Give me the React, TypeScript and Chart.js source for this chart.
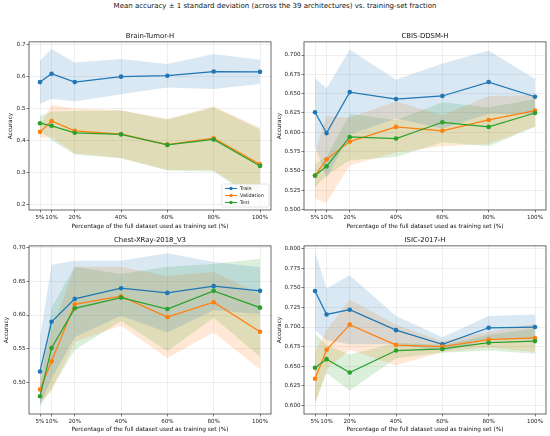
import React, { useEffect, useRef } from "react";
import Chart from "chart.js/auto";

const FONT = "DejaVu Sans";

// training-set fraction (%)
const fractions = [5, 10, 20, 40, 60, 80, 100];

// Brain-Tumor-H
const brainTrain = [0.583, 0.609, 0.583, 0.6, 0.603, 0.616, 0.615];
const brainTrainStd = [0.068, 0.078, 0.061, 0.055, 0.037, 0.055, 0.038];
const brainVal = [0.427, 0.461, 0.43, 0.42, 0.387, 0.407, 0.325];
const brainValStd = [0.018, 0.05, 0.07, 0.075, 0.08, 0.1, 0.115];
const brainTest = [0.454, 0.446, 0.424, 0.419, 0.386, 0.403, 0.32];
const brainTestStd = [0.022, 0.045, 0.068, 0.075, 0.08, 0.1, 0.115];
const brainTicks = [0.2, 0.3, 0.4, 0.5, 0.6, 0.7];

// CBIS-DDSM-H
const cbisTrain = [0.626, 0.599, 0.652, 0.643, 0.647, 0.665, 0.646];
const cbisTrainStd = [0.044, 0.058, 0.055, 0.025, 0.042, 0.041, 0.023];
const cbisVal = [0.544, 0.565, 0.588, 0.607, 0.602, 0.616, 0.628];
const cbisValStd = [0.03, 0.056, 0.031, 0.033, 0.02, 0.031, 0.02];
const cbisTest = [0.544, 0.556, 0.594, 0.592, 0.613, 0.607, 0.625];
const cbisTestStd = [0.015, 0.012, 0.03, 0.024, 0.026, 0.025, 0.018];
const cbisTicks = [0.5, 0.525, 0.55, 0.575, 0.6, 0.625, 0.65, 0.675, 0.7];

// Chest-XRay-2018_V3
const chestTrain = [0.516, 0.59, 0.624, 0.64, 0.633, 0.643, 0.636];
const chestTrainStd = [0.05, 0.085, 0.057, 0.041, 0.059, 0.036, 0.035];
const chestVal = [0.489, 0.531, 0.616, 0.628, 0.597, 0.619, 0.575];
const chestValStd = [0.02, 0.045, 0.056, 0.044, 0.061, 0.045, 0.056];
const chestTest = [0.479, 0.551, 0.61, 0.626, 0.609, 0.636, 0.611];
const chestTestStd = [0.015, 0.06, 0.062, 0.035, 0.063, 0.04, 0.073];
const chestTicks = [0.5, 0.55, 0.6, 0.65, 0.7];

// ISIC-2017-H
const isicTrain = [0.746, 0.716, 0.722, 0.696, 0.678, 0.699, 0.7];
const isicTrainStd = [0.05, 0.033, 0.044, 0.018, 0.009, 0.015, 0.016];
const isicVal = [0.634, 0.671, 0.703, 0.677, 0.675, 0.684, 0.686];
const isicValStd = [0.034, 0.025, 0.032, 0.026, 0.007, 0.01, 0.018];
const isicTest = [0.648, 0.659, 0.642, 0.67, 0.672, 0.68, 0.682];
const isicTestStd = [0.044, 0.018, 0.023, 0.01, 0.005, 0.01, 0.016];
const isicTicks = [0.6, 0.625, 0.65, 0.675, 0.7, 0.725, 0.75, 0.775, 0.8];

const seriesNames = ["Train", "Validation", "Test"];
const lineColors = ["#1f77b4", "#ff7f0e", "#2ca02c"];
const bandColors = ["rgba(31,119,180,0.17)", "rgba(255,127,14,0.17)", "rgba(44,160,44,0.17)"];

type Panel = {
  title: string;
  means: number[][];
  stds: number[][];
  ticks: number[];
  decimals: number;
  yMin: number;
  yMax: number;
  left: number;
  top: number;
  height: number;
  xAxisH: number;
  xTitlePad: number;
  yTitleX: number;
  legend: boolean;
};

const panels: Panel[] = [
  {
    title: "Brain-Tumor-H",
    means: [brainTrain, brainVal, brainTest],
    stds: [brainTrainStd, brainValStd, brainTestStd],
    ticks: brainTicks, decimals: 1, yMin: 0.182, yMax: 0.709,
    left: 0, top: 24, height: 212, xAxisH: 26, xTitlePad: 6.5, yTitleX: 10, legend: true,
  },
  {
    title: "CBIS-DDSM-H",
    means: [cbisTrain, cbisVal, cbisTest],
    stds: [cbisTrainStd, cbisValStd, cbisTestStd],
    ticks: cbisTicks, decimals: 3, yMin: 0.4995, yMax: 0.717,
    left: 275, top: 24, height: 212, xAxisH: 26, xTitlePad: 6.5, yTitleX: 4, legend: false,
  },
  {
    title: "Chest-XRay-2018_V3",
    means: [chestTrain, chestVal, chestTest],
    stds: [chestTrainStd, chestValStd, chestTestStd],
    ticks: chestTicks, decimals: 2, yMin: 0.4526, yMax: 0.703,
    left: 0, top: 228, height: 208, xAxisH: 22, xTitlePad: 3.5, yTitleX: 6, legend: false,
  },
  {
    title: "ISIC-2017-H",
    means: [isicTrain, isicVal, isicTest],
    stds: [isicTrainStd, isicValStd, isicTestStd],
    ticks: isicTicks, decimals: 3, yMin: 0.589, yMax: 0.8035,
    left: 275, top: 228, height: 208, xAxisH: 22, xTitlePad: 3.5, yTitleX: 4, legend: false,
  },
];

const framePlugin = {
  id: "frame",
  afterDatasetsDraw(chart: any) {
    const { ctx, chartArea: a } = chart;
    ctx.save();
    ctx.strokeStyle = "#444";
    ctx.lineWidth = 0.8;
    ctx.strokeRect(a.left, a.top, a.right - a.left, a.bottom - a.top);
    ctx.restore();
  },
};

const legendPlugin = {
  id: "innerLegend",
  afterDraw(chart: any, _args: any, opts: any) {
    if (!opts.show) return;
    const { ctx, chartArea: a } = chart;
    const w = 47, h = 23;
    const x0 = a.right - 2 - w, y0 = a.bottom - 3 - h;
    ctx.save();
    ctx.fillStyle = "rgba(255,255,255,0.85)";
    ctx.strokeStyle = "#d0d0d0";
    ctx.lineWidth = 0.6;
    ctx.beginPath();
    ctx.roundRect(x0, y0, w, h, 1.5);
    ctx.fill();
    ctx.stroke();
    ctx.font = `4.8px "${FONT}"`;
    ctx.textBaseline = "middle";
    seriesNames.forEach((name, i) => {
      const y = y0 + 4.5 + i * 7;
      ctx.strokeStyle = lineColors[i];
      ctx.lineWidth = 1.1;
      ctx.beginPath();
      ctx.moveTo(x0 + 3, y);
      ctx.lineTo(x0 + 15, y);
      ctx.stroke();
      ctx.fillStyle = lineColors[i];
      ctx.beginPath();
      ctx.arc(x0 + 9, y, 1.7, 0, Math.PI * 2);
      ctx.fill();
      ctx.fillStyle = "#111";
      ctx.fillText(name, x0 + 18, y + 0.3);
    });
    ctx.restore();
  },
};

function PanelChart({ p }: { p: Panel }) {
  const ref = useRef<HTMLCanvasElement>(null);

  useEffect(() => {
    if (!ref.current) return;
    const datasets: any[] = [];
    p.means.forEach((mean, i) => {
      datasets.push({
        label: seriesNames[i] + " upper",
        data: fractions.map((x, k) => ({ x, y: mean[k] + p.stds[i][k] })),
        fill: "+1",
        backgroundColor: bandColors[i],
        borderWidth: 0,
        pointRadius: 0,
        order: 10,
      });
      datasets.push({
        label: seriesNames[i] + " lower",
        data: fractions.map((x, k) => ({ x, y: mean[k] - p.stds[i][k] })),
        fill: false,
        borderWidth: 0,
        pointRadius: 0,
        order: 10,
      });
    });
    p.means.forEach((mean, i) => {
      datasets.push({
        label: seriesNames[i],
        data: fractions.map((x, k) => ({ x, y: mean[k] })),
        borderColor: lineColors[i],
        backgroundColor: lineColors[i],
        borderWidth: 1.25,
        pointRadius: 2.3,
        pointBorderWidth: 0,
        fill: false,
        order: 3 - i,
      });
    });

    const c = new Chart(ref.current, {
      type: "line",
      data: { datasets },
      plugins: [framePlugin, legendPlugin],
      options: {
        responsive: true,
        maintainAspectRatio: false,
        animation: false,
        events: [],
        layout: { padding: { top: 0, right: 3, bottom: 0, left: 0 } },
        plugins: {
          legend: { display: false },
          tooltip: { enabled: false },
          title: {
            display: true,
            text: p.title,
            fullSize: false,
            color: "#111",
            font: { family: FONT, size: 6.9, weight: "normal" },
            padding: { top: 7.8, bottom: 1.8 },
          },
          innerLegend: { show: p.legend },
        } as any,
        scales: {
          x: {
            type: "linear",
            min: 0.25,
            max: 104.75,
            afterBuildTicks: (s: any) => {
              s.ticks = fractions.map((v) => ({ value: v }));
            },
            afterFit: (s: any) => {
              s.height = p.xAxisH;
            },
            ticks: {
              autoSkip: false,
              maxRotation: 0,
              minRotation: 0,
              padding: 1.2,
              color: "#222",
              font: { family: FONT, size: 5.6 },
              callback: (v: any) => v + "%",
            },
            grid: {
              color: "rgba(176,176,176,0.35)",
              lineWidth: 0.6,
              tickLength: 2.5,
              tickColor: "#444",
              tickWidth: 0.7,
            },
            border: { display: false },
            title: {
              display: true,
              text: "Percentage of the full dataset used as training set (%)",
              color: "#111",
              font: { family: FONT, size: 5.8 },
              padding: { top: 0, bottom: p.xTitlePad },
            },
          },
          y: {
            type: "linear",
            min: p.yMin,
            max: p.yMax,
            afterBuildTicks: (s: any) => {
              s.ticks = p.ticks.map((v) => ({ value: v }));
            },
            afterFit: (s: any) => {
              s.width = 29;
            },
            ticks: {
              padding: 1,
              color: "#222",
              font: { family: FONT, size: 5.6 },
              callback: (v: any) => Number(v).toFixed(p.decimals),
            },
            grid: {
              color: "rgba(176,176,176,0.35)",
              lineWidth: 0.6,
              tickLength: 2.5,
              tickColor: "#444",
              tickWidth: 0.7,
            },
            border: { display: false },
            title: {
              display: true,
              text: "Accuracy",
              color: "#111",
              font: { family: FONT, size: 5.8 },
              padding: { top: p.yTitleX - 3.48, bottom: 0 },
            },
          },
        },
      },
    });

    return () => {
      c.destroy();
    };
  }, [p]);

  return <canvas ref={ref}></canvas>;
}

export default function App() {
  return (
    <div
      style={{
        position: "absolute",
        left: 0,
        top: 0,
        width: 550,
        height: 436,
        background: "#fff",
        fontFamily: FONT,
      }}
    >
      <div
        style={{
          position: "absolute",
          left: 0,
          top: 1.8,
          width: 550,
          textAlign: "center",
          fontSize: 7,
          lineHeight: "8.4px",
          color: "#111",
          whiteSpace: "nowrap",
        }}
      >
        Mean accuracy ± 1 standard deviation (across the 39 architectures) vs. training-set fraction
      </div>
      {panels.map((p) => (
        <div
          key={p.title}
          style={{ position: "absolute", left: p.left, top: p.top, width: 275, height: p.height }}
        >
          <PanelChart p={p} />
        </div>
      ))}
    </div>
  );
}
